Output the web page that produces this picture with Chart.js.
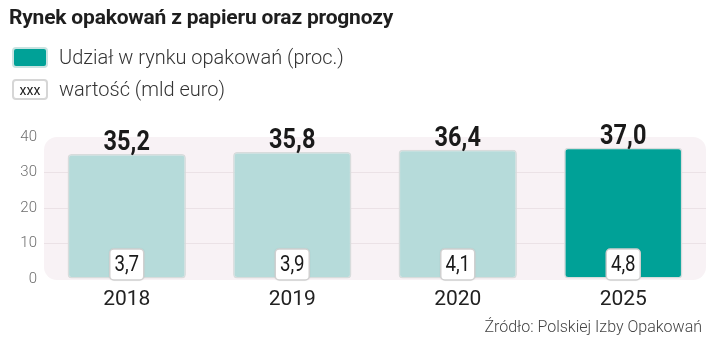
<!DOCTYPE html>
<html>
<head>
  <meta charset="UTF-8">
  <title>Rynek opakowań z papieru oraz prognozy</title>
  <script src="https://cdn.jsdelivr.net/npm/chart.js"></script>
  <style>
    body {
      margin: 0;
      width: 721px;
      height: 346px;
      background: #fff;
      font-family: Roboto, "Liberation Sans", sans-serif;
      color: #222;
      position: relative;
      overflow: hidden;
    }
    #chart {
      position: absolute;
      left: 0;
      top: 0;
    }
    h1 {
      position: absolute;
      left: 9px;
      top: 5px;
      margin: 0;
      font-size: 21px;
      font-weight: 700;
      letter-spacing: -0.2px;
      color: #1e1e1e;
    }
    .legend-item {
      position: absolute;
      left: 12px;
      height: 24px;
      display: flex;
      align-items: center;
      font-size: 20px;
      font-weight: 300;
      color: #333;
    }
    .swatch {
      width: 36px;
      height: 21px;
      border-radius: 4px;
      box-sizing: border-box;
      margin-right: 11px;
    }
    .swatch.fill {
      background: #00a197;
      border: 2px solid #c9e3e1;
    }
    .swatch.box {
      background: #fff;
      border: 2px solid #d6d6d6;
      font-size: 14px;
      font-weight: 400;
      color: #222;
      text-align: center;
      line-height: 18px;
    }
    .source {
      position: absolute;
      right: 19px;
      top: 317px;
      font-size: 16px;
      font-weight: 300;
      color: #444;
    }
  </style>
</head>
<body>
  <canvas id="chart" width="721" height="346"></canvas>
  <h1>Rynek opakowań z papieru oraz prognozy</h1>
  <div class="legend-item" style="top:45px"><div class="swatch fill"></div>Udział w rynku opakowań (proc.)</div>
  <div class="legend-item" style="top:77px"><div class="swatch box">xxx</div>wartość (mld euro)</div>
  <div class="source">Źródło: Polskiej Izby Opakowań</div>

  <script>
    // share of the packaging market (%) and value (bn euro)
    const years = ['2018', '2019', '2020', '2025'];
    const marketShare = [35.2, 35.8, 36.4, 37.0];
    const marketValue = [3.7, 3.9, 4.1, 4.8];
    const yTicks = [0, 10, 20, 30, 40];

    const barColors = ['#b6dbda', '#b6dbda', '#b6dbda', '#00a197'];
    const fmt = v => v.toFixed(1).replace('.', ',');

    function roundRect(ctx, x, y, w, h, r) {
      ctx.beginPath();
      ctx.moveTo(x + r, y);
      ctx.arcTo(x + w, y, x + w, y + h, r);
      ctx.arcTo(x + w, y + h, x, y + h, r);
      ctx.arcTo(x, y + h, x, y, r);
      ctx.arcTo(x, y, x + w, y, r);
      ctx.closePath();
    }

    // squeeze text horizontally, the bold figures are set condensed
    function narrowText(ctx, text, x, y, sx) {
      ctx.save();
      ctx.translate(x, y);
      ctx.scale(sx, 1);
      ctx.fillText(text, 0, 0);
      ctx.restore();
    }

    // pale panel behind the bars
    const panelPlugin = {
      id: 'panel',
      beforeDraw(chart) {
        const { ctx, chartArea: a } = chart;
        ctx.save();
        ctx.fillStyle = '#f8f2f5';
        roundRect(ctx, a.left, a.top, a.right - a.left, a.bottom - a.top + 1, 13);
        ctx.fill();
        ctx.restore();
      }
    };

    // share above each bar, value in a small box at its foot
    const labelPlugin = {
      id: 'labels',
      afterDatasetsDraw(chart) {
        const { ctx } = chart;
        const meta = chart.getDatasetMeta(0);
        const yScale = chart.scales.y;
        ctx.save();
        meta.data.forEach((bar, i) => {
          ctx.fillStyle = '#1a1a1a';
          ctx.font = 'bold 28px Roboto, sans-serif';
          ctx.textAlign = 'center';
          ctx.textBaseline = 'alphabetic';
          narrowText(ctx, fmt(marketShare[i]), bar.x, bar.y - 4, 0.84);

          const bw = 34, bh = 31;
          const bx = bar.x - bw / 2;
          const by = yScale.getPixelForValue(0) - bh + 1;
          ctx.shadowColor = 'rgba(0,0,0,0.15)';
          ctx.shadowBlur = 2;
          ctx.fillStyle = '#fff';
          roundRect(ctx, bx, by, bw, bh, 4);
          ctx.fill();
          ctx.shadowBlur = 0;
          ctx.shadowColor = 'transparent';
          ctx.strokeStyle = '#d0d0d0';
          ctx.lineWidth = 1.5;
          ctx.stroke();
          ctx.fillStyle = '#1a1a1a';
          ctx.font = '22px Roboto, sans-serif';
          ctx.textBaseline = 'middle';
          narrowText(ctx, fmt(marketValue[i]), bar.x, by + bh / 2 + 1, 0.85);
        });
        ctx.restore();
      }
    };

    new Chart(document.getElementById('chart').getContext('2d'), {
      type: 'bar',
      data: {
        labels: years,
        datasets: [{
          data: marketShare,
          backgroundColor: barColors,
          borderColor: '#d8dcdc',
          borderWidth: 1.5,
          borderRadius: 4,
          borderSkipped: false,
          categoryPercentage: 1,
          barPercentage: 0.715
        }]
      },
      options: {
        responsive: false,
        animation: false,
        layout: { padding: { top: 137, right: 15, bottom: 37, left: 0 } },
        plugins: {
          legend: { display: false },
          tooltip: { enabled: false }
        },
        scales: {
          x: {
            grid: { display: false },
            border: { display: false },
            ticks: {
              color: '#222',
              padding: 0,
              font: { family: 'Roboto', size: 21 }
            },
            afterFit(scale) { scale.height = 30; }
          },
          y: {
            min: 0,
            max: 40,
            afterBuildTicks(scale) { scale.ticks = yTicks.map(v => ({ value: v })); },
            border: { display: false },
            grid: {
              color: ctx => (ctx.tick.value === 0 || ctx.tick.value === 40) ? 'rgba(0,0,0,0)' : '#ebe2e6',
              lineWidth: 1,
              drawTicks: false
            },
            ticks: {
              color: '#6e6e6e',
              padding: 7,
              font: { family: 'Roboto', size: 15, weight: 300 }
            },
            afterFit(scale) { scale.width = 44; }
          }
        }
      },
      plugins: [panelPlugin, labelPlugin]
    });
  </script>
</body>
</html>
